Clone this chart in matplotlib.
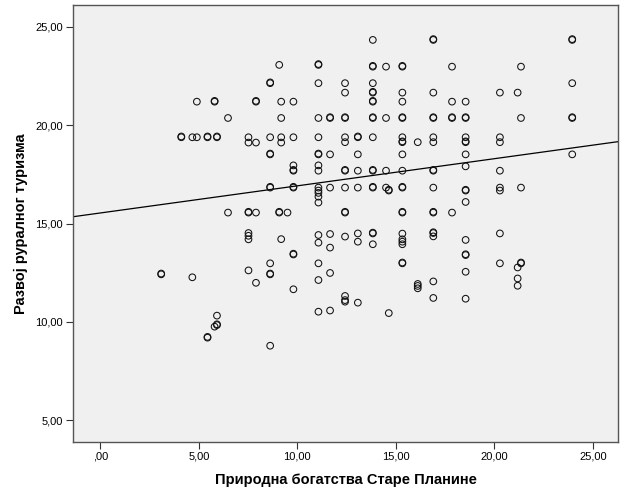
import matplotlib
matplotlib.use('Agg')
import matplotlib.pyplot as plt
import numpy as np

plt.rcParams['font.family'] = ['Liberation Sans', 'DejaVu Sans']

# x values (Природна богатства Старе Планине), one entry per column of points
x_cols = [3.09, 4.11, 4.67, 4.90, 5.44, 5.80, 5.92, 6.48, 7.52, 7.90,
          8.62, 9.08, 9.18, 9.50, 9.80, 11.07, 11.66, 12.42, 13.07, 13.83,
          14.50, 14.64, 15.33, 16.11, 16.90, 17.85, 18.54, 20.28, 21.18, 21.35,
          23.95]

# y values (Развој руралног туризма) for each column above
y_by_col = [
    [12.42, 12.46],
    [19.39, 19.43],
    [19.39, 12.27],
    [21.20, 19.39],
    [19.39, 19.43, 9.20, 9.24],
    [21.20, 21.24, 9.76],
    [19.39, 19.43, 10.32, 9.84, 9.88],
    [20.37, 15.56],
    [19.39, 19.12, 15.56, 15.60, 14.52, 14.38, 14.20, 12.62],
    [21.20, 21.24, 19.12, 15.56, 11.99],
    [22.14, 22.18, 19.39, 18.52, 18.56, 16.83, 16.87, 12.98, 12.42, 12.46, 8.79],
    [23.07, 15.56, 15.60],
    [21.20, 20.37, 19.39, 19.12, 14.21],
    [15.56],
    [21.20, 19.39, 17.96, 17.69, 17.73, 16.83, 16.87, 13.43, 13.47, 11.66],
    [23.07, 23.11, 22.14, 20.37, 19.39, 18.52, 18.56, 17.96, 17.69, 16.83,
     16.68, 16.56, 16.37, 16.07, 14.42, 14.03, 12.98, 12.13, 10.52],
    [20.37, 20.41, 18.52, 16.83, 14.47, 13.78, 12.49, 10.58],
    [22.14, 21.66, 20.37, 20.41, 19.39, 19.14, 17.69, 17.73, 16.83, 15.56,
     15.60, 14.34, 11.32, 11.11, 11.03],
    [19.39, 19.43, 18.52, 17.69, 16.83, 14.50, 14.08, 10.98],
    [24.34, 22.98, 23.02, 22.14, 21.66, 21.70, 21.20, 21.24, 20.37, 20.41,
     19.39, 17.69, 17.73, 16.83, 16.87, 14.50, 14.54, 13.95],
    [22.98, 20.37, 17.69, 16.83],
    [16.68, 16.72, 10.45],
    [22.98, 23.02, 21.66, 21.20, 20.37, 20.41, 19.39, 19.14, 19.18, 18.52,
     17.69, 16.83, 16.87, 15.56, 15.60, 14.49, 14.20, 14.08, 13.95, 12.98, 13.02],
    [19.14, 11.93, 11.83, 11.71],
    [24.34, 24.38, 21.66, 20.37, 20.41, 19.39, 19.14, 17.69, 17.73, 16.83,
     15.56, 15.60, 14.52, 14.56, 14.35, 12.06, 11.22],
    [22.98, 21.20, 20.37, 20.41, 15.56],
    [21.20, 20.37, 20.41, 19.39, 19.14, 19.18, 18.52, 17.91, 16.68, 16.72,
     16.10, 14.17, 13.40, 13.44, 12.55, 11.18],
    [21.66, 19.39, 19.14, 17.69, 16.83, 16.68, 14.50, 12.98],
    [21.66, 12.77, 12.21, 11.84],
    [22.98, 20.37, 16.83, 12.98, 13.02],
    [24.34, 24.38, 22.14, 20.37, 20.41, 18.52],
]

# fit line
intercept = 15.54
slope = 0.138

x_ticks = [0, 5, 10, 15, 20, 25]
x_tick_labels = [',00', '5,00', '10,00', '15,00', '20,00', '25,00']
y_ticks = [5, 10, 15, 20, 25]
y_tick_labels = ['5,00', '10,00', '15,00', '20,00', '25,00']

xs = []
ys = []
for xc, col in zip(x_cols, y_by_col):
    xs += [xc] * len(col)
    ys += col

fig = plt.figure(figsize=(6.25, 5), dpi=100)
ax = fig.add_axes([0.117, 0.1166, 0.872, 0.874])
ax.set_facecolor('#f0f0f0')

ax.scatter(xs, ys, s=23, facecolors='none', edgecolors='#111111', linewidths=0.75, zorder=3)

xlim = (-1.38, 26.28)
ax.set_xlim(xlim)
ax.set_ylim(3.91, 26.13)
lx = np.array(xlim)
ax.plot(lx, intercept + slope * lx, color='black', linewidth=0.9, zorder=2)

ax.set_xticks(x_ticks)
ax.set_xticklabels(x_tick_labels)
ax.set_yticks(y_ticks)
ax.set_yticklabels(y_tick_labels)
ax.tick_params(axis='both', labelsize=8, length=5, width=0.8, color='#333333', direction='out')
ax.tick_params(axis='x', pad=2)
ax.tick_params(axis='y', pad=2.5)

for sp in ax.spines.values():
    sp.set_color('#555555')
    sp.set_linewidth(1.0)

ax.set_xlabel('Природна богатства Старе Планине', fontsize=10.5, fontweight='bold', labelpad=8)
ax.set_ylabel('Развој руралног туризма', fontsize=10.5, fontweight='bold', labelpad=5)

fig.savefig('out.png', dpi=100, facecolor='white')
